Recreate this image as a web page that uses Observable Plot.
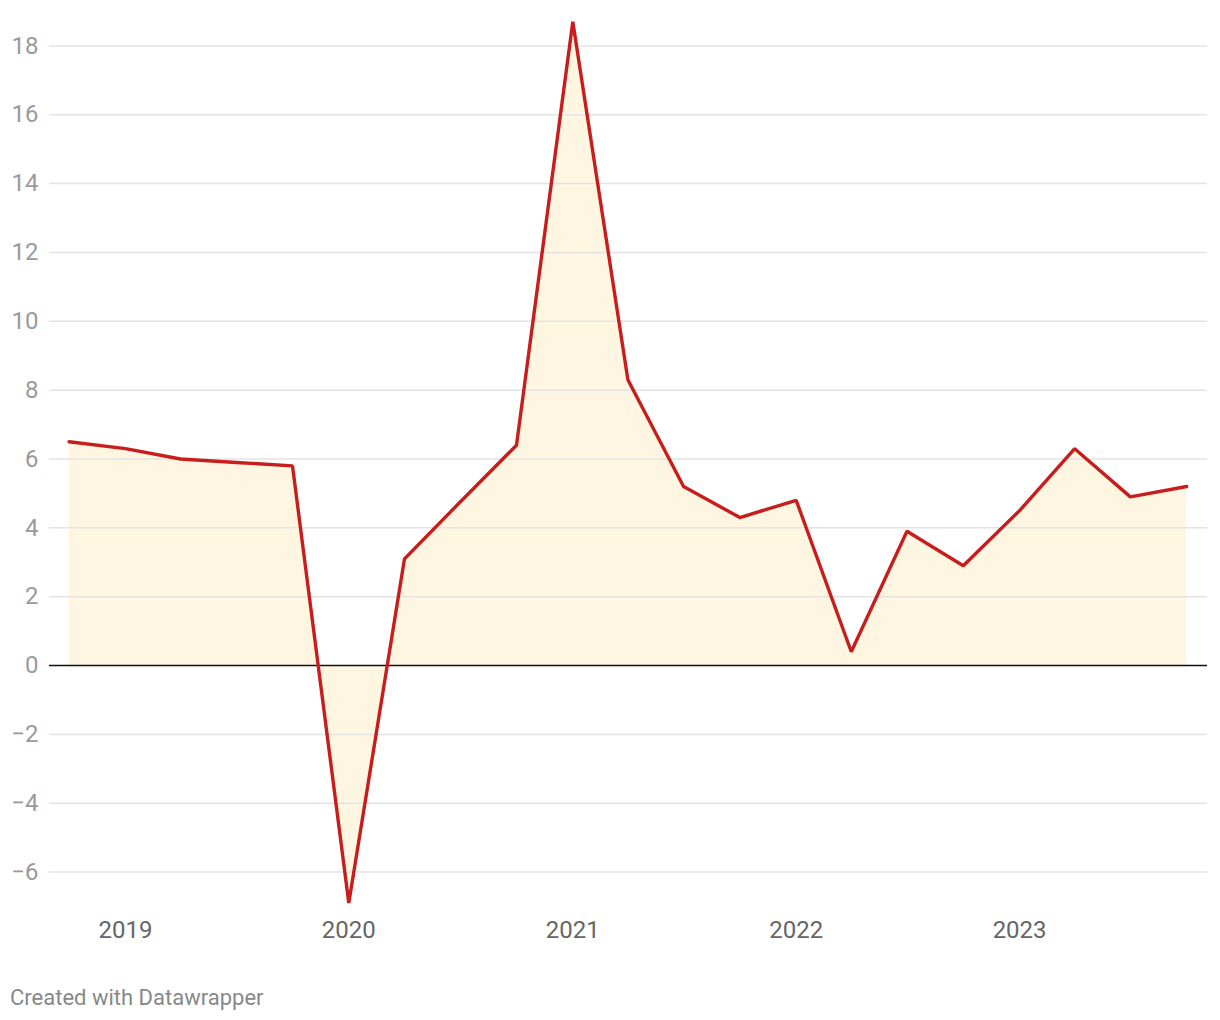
<!DOCTYPE html>
<html>
<head>
<meta charset="utf-8">
<script src="https://cdn.jsdelivr.net/npm/d3@7"></script>
<script src="https://cdn.jsdelivr.net/npm/@observablehq/plot@0.6"></script>
<style>
  body { margin: 0; background: #fff; font-family: Roboto, "Noto Sans", sans-serif; }
  #chart svg { display: block; }
  .caption { font-family: Roboto, sans-serif; font-size: 22px; color: #888; margin: 35px 0 0 10px; }
</style>
</head>
<body>
<div id="chart"></div>
<div class="caption">Created with Datawrapper</div>
<script>
const quarters = ["2018-10-01","2019-01-01","2019-04-01","2019-07-01","2019-10-01",
  "2020-01-01","2020-04-01","2020-07-01","2020-10-01",
  "2021-01-01","2021-04-01","2021-07-01","2021-10-01",
  "2022-01-01","2022-04-01","2022-07-01","2022-10-01",
  "2023-01-01","2023-04-01","2023-07-01","2023-10-01"];
const values = [6.5, 6.3, 6.0, 5.9, 5.8,
  -6.9, 3.1, 4.75, 6.4,
  18.7, 8.3, 5.2, 4.3,
  4.8, 0.4, 3.9, 2.9,
  4.5, 6.3, 4.9, 5.2];
const yTicks = [-6, -4, -2, 0, 2, 4, 6, 8, 10, 12, 14, 16, 18];
const xTickYears = [2019, 2020, 2021, 2022, 2023];

const data = quarters.map((q, i) => ({date: new Date(q + "T00:00:00Z"), value: values[i]}));
const xTicks = xTickYears.map(y => new Date(Date.UTC(y, 0, 1)));

const chart = Plot.plot({
  width: 1220,
  height: 950,
  marginLeft: 49,
  marginRight: 13,
  marginTop: 11,
  marginBottom: 44,
  style: {fontFamily: "Roboto, sans-serif", fontSize: "24px", background: "#fff"},
  x: {type: "utc", domain: [new Date(Date.UTC(2018, 7, 30)), new Date(Date.UTC(2023, 10, 4))]},
  y: {domain: [-7, 19]},
  marks: [
    Plot.areaY(data, {x: "date", y: "value", fill: "#fff6e1"}),
    Plot.gridY(yTicks.filter(d => d !== 0), {stroke: "#e3e3e3", strokeOpacity: 1, strokeWidth: 1.5}),
    Plot.ruleY([0], {stroke: "#111", strokeWidth: 1.5}),
    Plot.lineY(data, {x: "date", y: "value", stroke: "#c71e1d", strokeWidth: 3.4, strokeLinejoin: "miter"}),
    Plot.axisY(yTicks, {tickSize: 0, tickPadding: 11, color: "#9a9a9a", fontSize: 24, label: null}),
    Plot.axisX(xTicks, {tickSize: 0, tickPadding: 14, tickFormat: d3.utcFormat("%Y"), color: "#666", fontSize: 24, label: null})
  ]
});
document.getElementById("chart").appendChild(chart);
</script>
</body>
</html>
